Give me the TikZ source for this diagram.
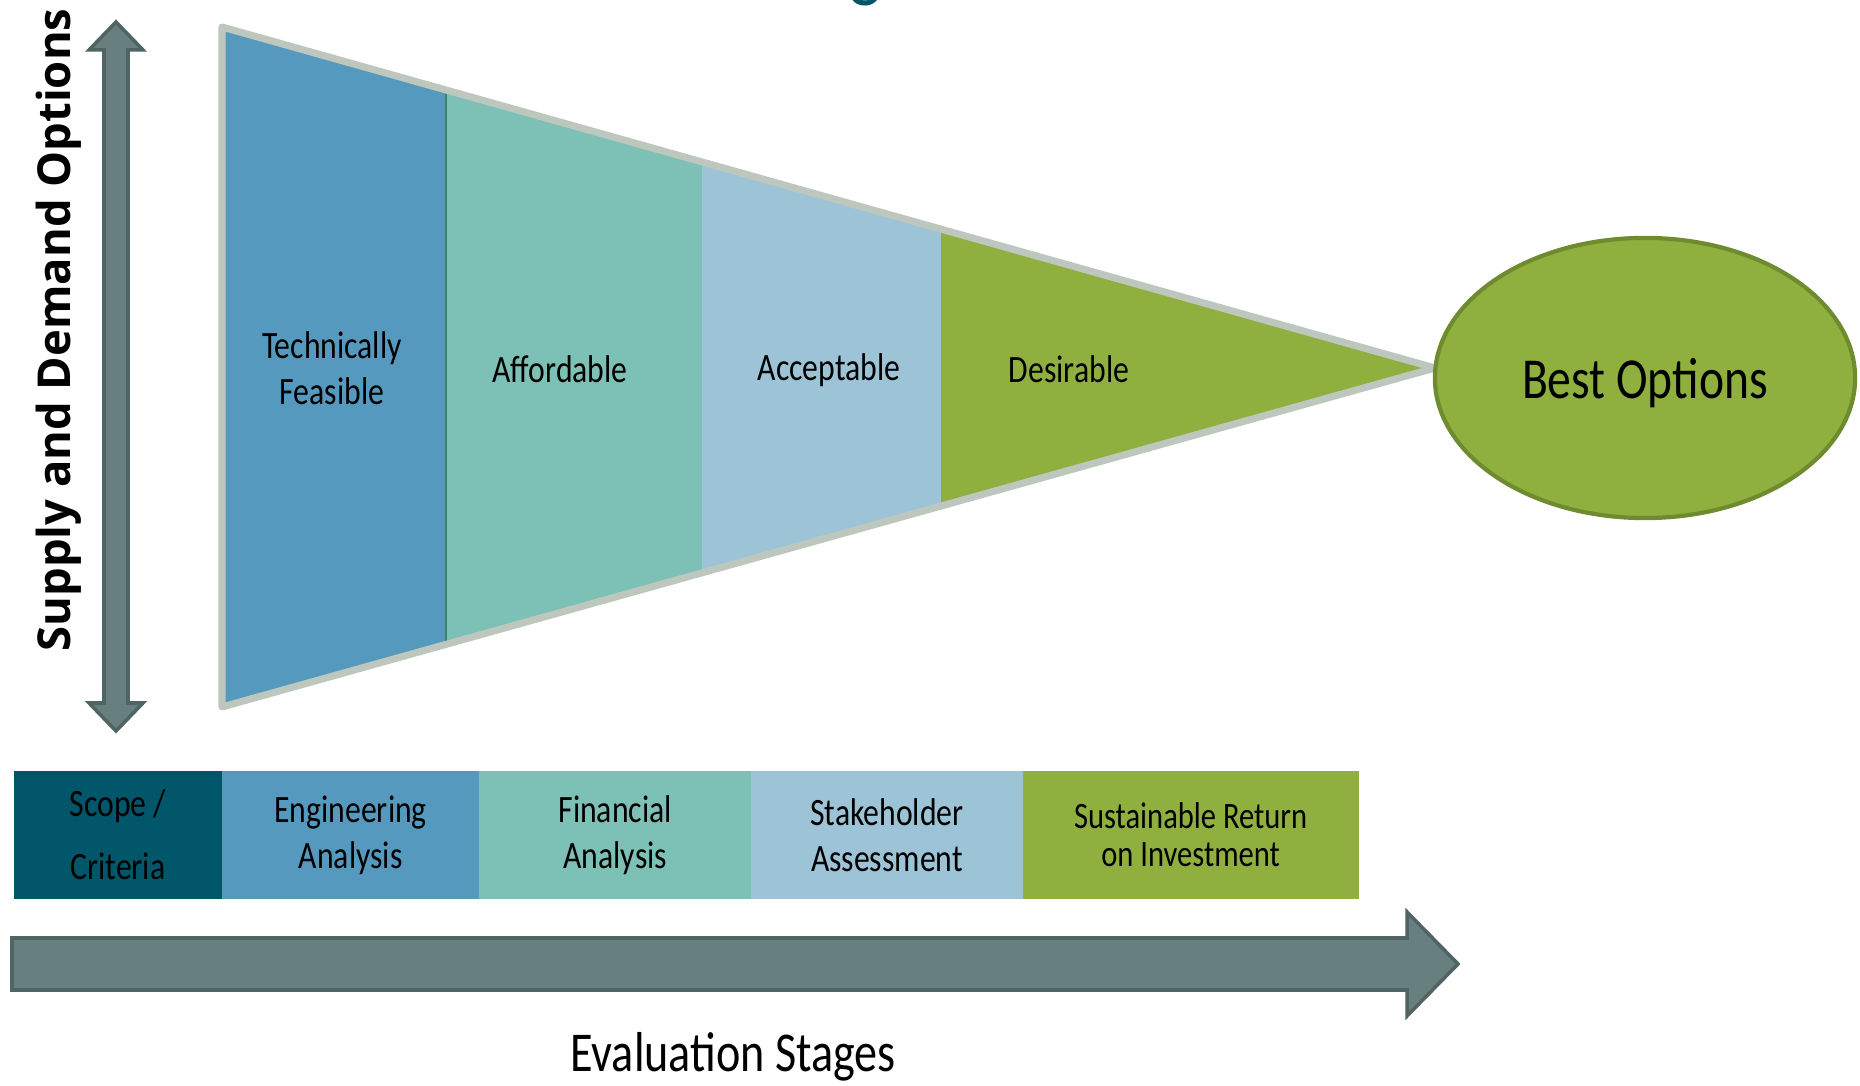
\documentclass[tikz,border=0pt]{standalone}
\usepackage{fontspec}
\setmainfont{Carlito}[FakeStretch=0.82]
\newfontfamily\axisfont{Open Sans}
\usepackage{tikz}
\usetikzlibrary{shapes.geometric,positioning}

\definecolor{EngBlue}{HTML}{5699BF}
\definecolor{FinTeal}{HTML}{7DC0B5}
\definecolor{StakeBlue}{HTML}{9DC3D7}
\definecolor{SroiGreen}{HTML}{8FB03F}
\definecolor{ScopeTeal}{HTML}{01566A}
\definecolor{FunnelRim}{HTML}{BEC7BE}
\definecolor{ArrowFill}{HTML}{687F80}
\definecolor{ArrowEdge}{HTML}{4F6465}
\definecolor{OvalEdge}{HTML}{6E8B2F}
\definecolor{Divider}{HTML}{3F7F78}

\begin{document}
\begin{tikzpicture}[x=0.01cm, y=-0.01cm]
			\tikzstyle{Stage}	= [rectangle, minimum height=1.27cm, inner sep=0pt, outer sep=0pt, align=center, font=\fontsize{11}{13}\selectfont]
			\tikzstyle{BandLabel}	= [align=center, font=\fontsize{11}{13}\selectfont]
			\tikzstyle{Oval}	= [ellipse, draw=OvalEdge, line width=1.2pt, fill=SroiGreen, inner sep=0pt, text depth=0pt, font=\fontsize{16.5}{19}\selectfont]
			\tikzstyle{BlockArrow}	= [fill=ArrowFill, draw=ArrowEdge, line width=1pt, line join=miter]
			\tikzstyle{Rim}		= [draw=FunnelRim, line width=2pt, line join=round]

			\useasboundingbox (0,0) rectangle (1860,1086);

			% cut-off title
			\node (titleg) at (866,-8) [anchor=base, text=ScopeTeal, font=\fontsize{24}{28}\selectfont] {g};

			% funnel
			\coordinate (ftop) at (222,27);
			\coordinate (fbot) at (222,707);
			\coordinate (ftip) at (1435,368);
			\begin{scope}
				\clip (ftop) -- (ftip) -- (fbot) -- cycle;
				\fill [EngBlue] (222,0) rectangle (446,720);
				\fill [FinTeal] (446,0) rectangle (702,720);
				\fill [StakeBlue] (702,0) rectangle (941,720);
				\fill [SroiGreen] (941,0) rectangle (1440,720);
				\draw [Divider, line width=0.6pt] (446,0) -- (446,720);
			\end{scope}
			\draw [Rim] (ftop) -- (ftip) -- (fbot) -- cycle;

			\node (feasible) at (332,368) [BandLabel] {Technically\\Feasible};
			\node (afford) at (560,369) [BandLabel] {Affordable};
			\node (accept) at (829,370) [BandLabel] {Acceptable};
			\node (desire) at (1069,369) [BandLabel] {Desirable};

			\node (best) at (1645,378) [Oval, minimum width=4.2cm, minimum height=2.8cm] {Best Options};

			% options axis
			\draw [BlockArrow] (116,22) -- (143,50) -- (128,50) -- (128,703) -- (143,703) -- (116,731)
				-- (89,703) -- (104,703) -- (104,50) -- (89,50) -- cycle;
			\node (axis) at (59,330) [rotate=90, font=\axisfont\bfseries\fontsize{12.9}{16}\selectfont] {Supply and Demand Options};

			% stages
			\node (scope) at (118,835) [Stage, fill=ScopeTeal, minimum width=2.08cm] {Scope /\\[5pt]Criteria};
			\node (eng) [Stage, fill=EngBlue, minimum width=2.57cm, right=0pt of scope] {Engineering\\Analysis};
			\node (fin) [Stage, fill=FinTeal, minimum width=2.72cm, right=0pt of eng] {Financial\\Analysis};
			\node (stake) [Stage, fill=StakeBlue, minimum width=2.71cm, right=0pt of fin] {Stakeholder\\Assessment};
			\node (sroi) [Stage, fill=SroiGreen, minimum width=3.36cm, right=0pt of stake, font=\fontsize{10.6}{10.8}\selectfont] {Sustainable Return\\on Investment};

			\draw [BlockArrow] (12,938) -- (1407,938) -- (1407,912) -- (1458,964) -- (1407,1016)
				-- (1407,990) -- (12,990) -- cycle;
			\node (stages) at (733,1057) [font=\fontsize{16}{19}\selectfont] {Evaluation Stages};
		\end{tikzpicture}
\end{document}
